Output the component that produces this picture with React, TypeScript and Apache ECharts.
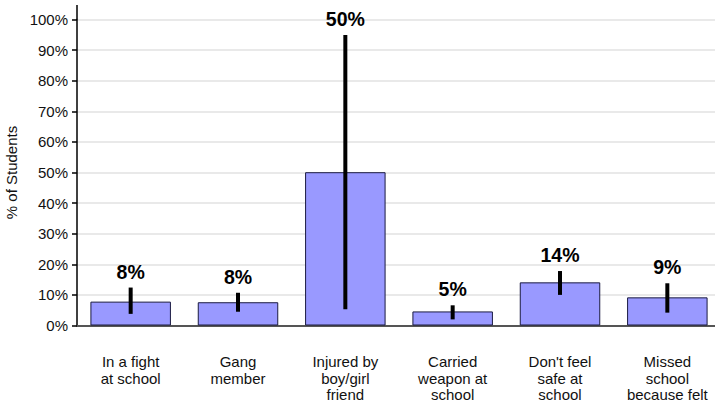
import React, { useEffect, useRef } from "react";
import * as echarts from "echarts";

const categories = [
  "In a fight\nat school",
  "Gang\nmember",
  "Injured by\nboy/girl\nfriend",
  "Carried\nweapon at\nschool",
  "Don't feel\nsafe at\nschool",
  "Missed\nschool\nbecause felt\nunsafe",
];
const values = [7.8, 7.6, 50.1, 4.6, 14.1, 9.2];
const errLow = [3.8, 4.5, 5.3, 2.0, 10.0, 4.2];
const errHigh = [12.4, 10.7, 94.9, 6.6, 17.8, 13.8];
const valueLabels = ["8%", "8%", "50%", "5%", "14%", "9%"];

const FONT = '"Liberation Sans", Arial, Helvetica, sans-serif';

export default function App() {
  const ref = useRef<HTMLDivElement>(null);
  useEffect(() => {
    if (!ref.current) return;
    const chart = echarts.init(ref.current, null, { renderer: "svg" });
    const errData = categories.map((_, i) => [i, errLow[i], errHigh[i], valueLabels[i]]);
    chart.setOption({
      animation: false,
      backgroundColor: "#ffffff",
      textStyle: { fontFamily: FONT },
      grid: {
        left: 77,
        top: 19.5,
        height: 306,
        width: 644,
        containLabel: false,
        outerBoundsMode: "none",
      },
      xAxis: {
        type: "category",
        data: categories,
        axisLine: { lineStyle: { color: "#555555", width: 2 } },
        axisTick: { show: false },
        axisLabel: {
          interval: 0,
          fontSize: 15,
          lineHeight: 16.5,
          color: "#111111",
          margin: 28,
          fontFamily: FONT,
        },
      },
      yAxis: {
        type: "value",
        min: 0,
        max: 100,
        interval: 10,
        name: "% of Students",
        nameLocation: "middle",
        nameRotate: 90,
        nameGap: 55,
        nameTextStyle: { fontSize: 15, color: "#111111", fontFamily: FONT },
        axisLine: { show: true, lineStyle: { color: "#000000", width: 1.5 } },
        axisTick: { show: true, length: 5, lineStyle: { color: "#000000", width: 1.5 } },
        axisLabel: {
          formatter: "{value}%",
          fontSize: 15,
          color: "#111111",
          margin: 9,
          fontFamily: FONT,
        },
        splitLine: { show: true, lineStyle: { color: "#e2e2e2", width: 1.5 } },
      },
      graphic: [
        {
          type: "line",
          shape: { x1: 77, y1: 5, x2: 77, y2: 20 },
          style: { stroke: "#000000", lineWidth: 1.5 },
        },
      ],
      series: [
        {
          type: "bar",
          data: values,
          barWidth: "75%",
          itemStyle: { color: "#9999ff", borderColor: "#1a1a40", borderWidth: 1 },
          z: 2,
        },
        {
          type: "custom",
          data: errData,
          z: 3,
          renderItem: (params: any, api: any) => {
            const i = api.value(0);
            const lo = api.coord([i, api.value(1)]);
            const hi = api.coord([i, api.value(2)]);
            const label = valueLabels[params.dataIndex];
            return {
              type: "group",
              children: [
                {
                  type: "line",
                  shape: { x1: hi[0], y1: hi[1], x2: lo[0], y2: lo[1] },
                  style: { stroke: "#000000", lineWidth: 4 },
                },
                {
                  type: "text",
                  x: hi[0],
                  y: hi[1] - 16,
                  style: {
                    text: label,
                    fill: "#000000",
                    font: `bold 19.5px ${FONT}`,
                    textAlign: "center",
                    textVerticalAlign: "middle",
                  },
                },
              ],
            };
          },
        },
      ],
    });
    return () => chart.dispose();
  }, []);
  return (
    <div
      ref={ref}
      style={{ position: "fixed", left: 0, top: 0, width: 715, height: 406 }}
    />
  );
}
